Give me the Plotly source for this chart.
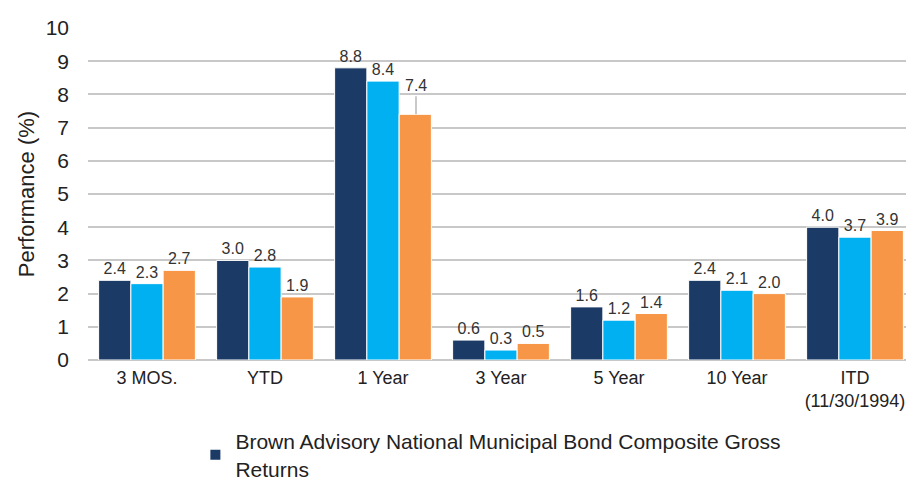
import plotly.graph_objects as go

categories = ["3 MOS.", "YTD", "1 Year", "3 Year", "5 Year", "10 Year", "ITD<br>(11/30/1994)"]
composite_gross = [2.4, 3.0, 8.8, 0.6, 1.6, 2.4, 4.0]
series_b = [2.3, 2.8, 8.4, 0.3, 1.2, 2.1, 3.7]
series_c = [2.7, 1.9, 7.4, 0.5, 1.4, 2.0, 3.9]
series_names = ["Brown Advisory National Municipal Bond Composite Gross<br>Returns",
                "Series 2", "Series 3"]
colors = ["#1B3A66", "#00B0F0", "#F79646"]
yticks = list(range(0, 11))

FONT = "Liberation Sans, Arial, sans-serif"

fig = go.Figure()
all_series = [composite_gross, series_b, series_c]
for i, vals in enumerate(all_series):
    texts = [f"{v:.1f}" for v in vals]
    if i == 2:
        texts[2] = ""  # labelled with leader line below
    fig.add_trace(go.Bar(
        x=categories, y=vals, name=series_names[i],
        marker=dict(color=colors[i], line=dict(color="white", width=1)),
        text=texts, textposition="outside", cliponaxis=False,
        textfont=dict(size=16, color="#333333", family=FONT),
        showlegend=(i == 0),
    ))

# leader-line label for 1 Year third series
fig.add_annotation(
    x=categories[2], y=series_c[2], xref="x", yref="y",
    text=f"{series_c[2]:.1f}", showarrow=True, arrowhead=0, arrowwidth=1.2,
    arrowcolor="#A6A6A6", ax=0, ay=-18, xshift=33, standoff=0,
    font=dict(size=16, color="#333333", family=FONT), yanchor="bottom",
)

fig.update_layout(
    width=906, height=481,
    margin=dict(l=80, r=0, t=20, b=129),
    paper_bgcolor="white", plot_bgcolor="white",
    barmode="group", bargap=0.18, bargroupgap=0.0,
    font=dict(family=FONT, color="#222222"),
    yaxis=dict(range=[0, 10], tickvals=yticks, showgrid=True, automargin=False,
               gridcolor="#C8C8C8", gridwidth=1.5, zeroline=True,
               zerolinecolor="#C8C8C8", zerolinewidth=1.5,
               tickfont=dict(size=21, color="#222222"), ticks="", ticklen=0,
               ticklabelstandoff=18,
               title=dict(text="Performance (%)", font=dict(size=22, color="#222222"), standoff=4)),
    xaxis=dict(tickfont=dict(size=18, color="#222222"), ticks="", showline=False,
               automargin=False, ticklabelstandoff=5),
    legend=dict(orientation="h", x=0.13, xanchor="left", yref="container", y=-0.025,
                yanchor="bottom",
                font=dict(size=21, family=FONT, color="#222222"),
                itemsizing="constant", traceorder="normal"),
)

fig.write_html("out.html")
